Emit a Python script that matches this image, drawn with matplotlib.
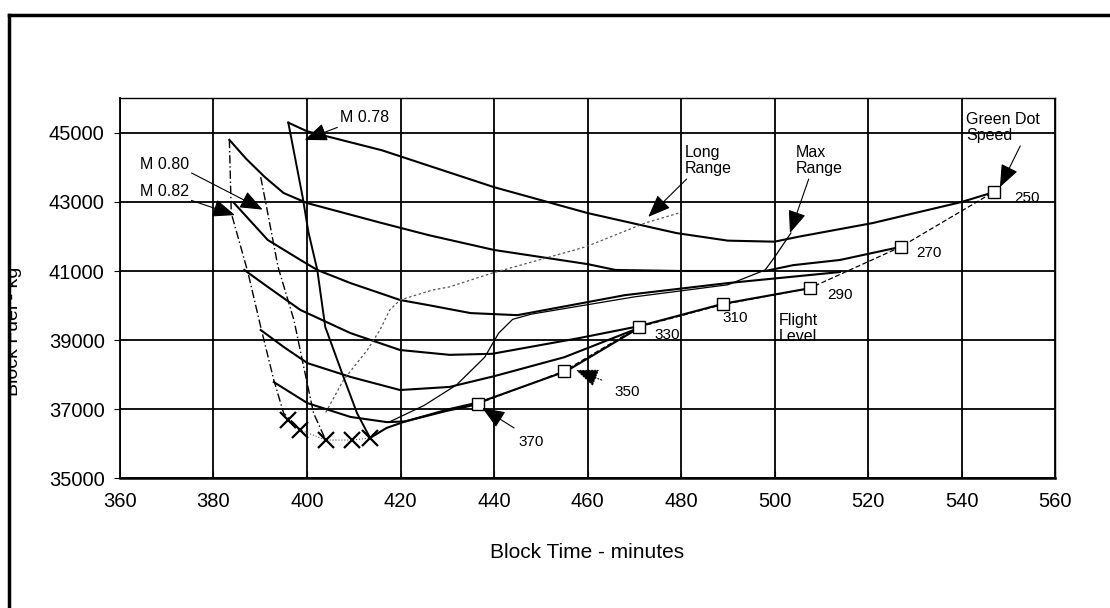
import matplotlib
matplotlib.use("Agg")
import matplotlib.pyplot as plt
from matplotlib.transforms import Bbox

plt.rcParams['font.family'] = ['Liberation Sans', 'DejaVu Sans']

# flight level curves (block time min, block fuel kg)
fl250_x = [396, 400, 416, 440, 460, 479, 490, 500, 505, 521, 540, 547]
fl250_y = [45300, 45050, 44500, 43430, 42680, 42100, 41880, 41850, 41990, 42390, 43000, 43290]
fl270_x = [383.4, 387, 391, 395, 400, 416, 426, 440, 460, 466, 480, 498, 504, 514, 527]
fl270_y = [44800, 44250, 43720, 43260, 42970, 42390, 42040, 41610, 41200, 41030, 41000, 41000, 41170, 41320, 41700]
fl290_x = [384.4, 391.6, 398.6, 402.2, 409.3, 419.9, 426, 435, 445, 468, 490, 514]
fl290_y = [42970, 41900, 41320, 41030, 40650, 40160, 40010, 39780, 39720, 40300, 40650, 40970]
fl310_x = [386.6, 391.6, 398.6, 409.3, 419.9, 430.5, 439.6, 458, 471, 489, 507.5]
fl310_y = [41030, 40540, 39870, 39200, 38710, 38570, 38600, 39050, 39400, 40050, 40500]
fl330_x = [390.1, 395, 400.1, 409.3, 419.9, 430.5, 440, 455, 471]
fl330_y = [39290, 38800, 38330, 37930, 37550, 37640, 37950, 38500, 39350]
fl350_x = [392.9, 400.1, 409.3, 417.1, 421, 430.5, 437, 455.5, 471]
fl350_y = [37780, 37170, 36770, 36620, 36640, 37000, 37200, 38100, 39350]
fl370_x = [413.5, 417, 421, 430, 437]
fl370_y = [36160, 36450, 36640, 36950, 37150]

# constant mach lines
m078_x = [396, 399.1, 400.3, 402.2, 403.9, 407.8, 410.7, 413.5]
m078_y = [45300, 43120, 42130, 41030, 39380, 37930, 36880, 36160]
m080_x = [390.1, 391.6, 393.8, 397.2, 399.3, 401.4, 404]
m080_y = [43720, 42680, 41120, 39580, 38220, 36880, 36100]
m082_x = [383.4, 383.8, 387.4, 390.1, 392.9, 395, 398.6]
m082_y = [44800, 42680, 40940, 39380, 37840, 36880, 36390]

# long range / max range
lrc_x = [404, 407.8, 412.9, 415.6, 417.7, 419.9, 426.9, 430.5, 439.6, 459.6, 472.3, 480]
lrc_y = [36900, 37840, 38710, 39290, 39870, 40160, 40450, 40540, 40940, 41700, 42390, 42700]
mrc_x = [418, 425, 432, 438, 441, 444, 448, 470, 490, 498, 500, 503.5]
mrc_y = [36650, 37100, 37700, 38500, 39200, 39600, 39750, 40250, 40600, 41030, 41400, 42100]

# max mach limit crosses
xmark_x = [395.9, 398.6, 404, 409.7, 413.5]
xmark_y = [36680, 36390, 36100, 36100, 36160]

# green dot speed per flight level
gd_x = [436.5, 455, 471, 489, 507.5, 527, 547]
gd_y = [37150, 38100, 39380, 40030, 40500, 41700, 43300]
gd_lbl = ['370', '350', '330', '310', '290', '270', '250']
gd_lbl_x = [448, 468.5, 477, 491.5, 514, 533, 554]
gd_lbl_y = [36050, 37490, 39140, 39640, 40300, 41520, 43120]

fig = plt.figure(figsize=(11.1, 6.08), dpi=100)
ax = fig.add_axes([0.1081, 0.2138, 0.8424, 0.6242])

k = dict(color='black', lw=1.5)
for xs, ys in [(fl250_x, fl250_y), (fl270_x, fl270_y), (fl290_x, fl290_y),
               (fl310_x, fl310_y), (fl330_x, fl330_y), (fl350_x, fl350_y),
               (fl370_x, fl370_y)]:
    ax.plot(xs, ys, **k)

ax.plot(m078_x, m078_y, color='black', lw=1.4)
ax.plot(m080_x, m080_y, color='black', lw=1.0, ls=(0, (6, 2, 1, 2)))
ax.plot(m082_x, m082_y, color='black', lw=1.0, ls=(0, (6, 2, 1, 2)))
ax.plot(lrc_x, lrc_y, color='#555555', lw=0.9, ls=(0, (2, 2)))
ax.plot(mrc_x, mrc_y, color='black', lw=0.9)
ax.plot(xmark_x, xmark_y, color='#555555', lw=0.8, ls=':', marker='x',
        ms=11, mew=1.6, mec='black')
ax.plot(gd_x, gd_y, color='black', lw=0.9, ls=(0, (4, 2)), marker='s',
        ms=9, mfc='white', mec='black', mew=1.0)

for t, x, y in zip(gd_lbl, gd_lbl_x, gd_lbl_y):
    ax.text(x, y, t, fontsize=11, ha='center', va='center')

ah = dict(arrowstyle='-|>,head_length=1.0,head_width=0.4', color='black',
          lw=0.8, mutation_scale=14, shrinkA=0, shrinkB=0)
ax.annotate('M 0.78', xy=(399.5, 44800), xytext=(407, 45460), fontsize=11.5,
            va='center', arrowprops=ah)
ax.annotate('M 0.80', xy=(390.5, 42780), xytext=(364.2, 44100), fontsize=11.5,
            va='center', arrowprops=dict(ah, relpos=(1, 0)))
ax.annotate('M 0.82', xy=(384.6, 42620), xytext=(364.2, 43290), fontsize=11.5,
            va='center', arrowprops=dict(ah, relpos=(1, 0)))
ax.annotate('Long\nRange', xy=(473, 42570), xytext=(480.8, 44650), fontsize=11.5,
            va='top', linespacing=1.1, arrowprops=dict(ah, relpos=(0.1, 0)))
ax.annotate('Max\nRange', xy=(503.3, 42100), xytext=(504.5, 44650), fontsize=11.5,
            va='top', linespacing=1.1, arrowprops=dict(ah, relpos=(0.3, 0)))
ax.annotate('Green Dot\nSpeed', xy=(548.2, 43430), xytext=(541, 45610), fontsize=11.5,
            va='top', linespacing=1.1, arrowprops=dict(ah, relpos=(0.75, 0)))
ax.annotate('', xy=(457.5, 38130), xytext=(463, 37840),
            arrowprops=dict(ah, ls=':'))
ax.annotate('', xy=(437.5, 37030), xytext=(444.3, 36450), arrowprops=ah)
ax.text(501, 39780, 'Flight\nLevel', fontsize=11.5, va='top', linespacing=1.1)

ax.set_xlim(360, 560)
ax.set_ylim(35000, 46000)
ax.set_xticks(range(360, 561, 20))
ax.set_yticks(range(35000, 45001, 2000))
ax.grid(True, color='black', lw=1.3)
ax.tick_params(labelsize=14.5, length=5, color='black', direction='in', pad=10)
ax.tick_params(axis='y', direction='out', length=4, pad=7)
ax.spines['left'].set_linewidth(1.3)
ax.spines['bottom'].set_linewidth(1.8)
ax.spines['top'].set_linestyle((0, (3, 1)))
ax.spines['top'].set_linewidth(1.0)
ax.spines['right'].set_linestyle((0, (3, 1)))
ax.spines['right'].set_linewidth(1.0)
ax.set_xlabel('Block Time - minutes', fontsize=15, labelpad=23)

yl = fig.text(0.012, 0.455, 'Block Fuel - kg', rotation=90, fontsize=14,
              ha='center', va='center')
yl.set_clip_box(Bbox.from_extents(11, 0, 1110, 608))

# scanned frame
fig.add_artist(plt.Line2D([0.0081, 0.0081], [0.0, 0.975], color='black', lw=2.5,
                          transform=fig.transFigure))
fig.add_artist(plt.Line2D([0.0081, 1.0], [0.975, 0.975], color='black', lw=2.5,
                          transform=fig.transFigure))

fig.savefig('out.png', dpi=100)
